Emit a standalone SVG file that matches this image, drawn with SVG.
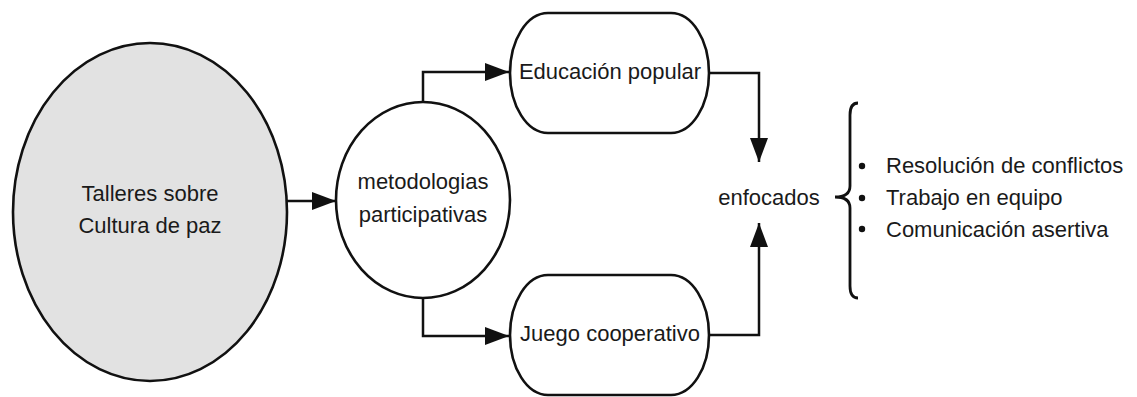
<svg xmlns="http://www.w3.org/2000/svg" width="1137" height="397" viewBox="0 0 1137 397">
<defs>
<style>
.shape{stroke:#111;stroke-width:2.6;fill:#fff}
.conn{stroke:#111;stroke-width:2.5;fill:none}
text{font-family:"Liberation Sans",Arial,sans-serif;font-size:22px;fill:#1a1a1a}
.c{text-anchor:middle}
</style>
<marker id="arr" viewBox="0 0 24 18" refX="24" refY="9" markerWidth="24" markerHeight="18" markerUnits="userSpaceOnUse" orient="auto">
<path d="M0,0 L24,9 L0,18 Z" fill="#111"/>
</marker>
</defs>
<rect width="1137" height="397" fill="#fff"/>
<g id="connectors">
<path class="conn" d="M285,201 L336,201" marker-end="url(#arr)"/>
<path class="conn" d="M423,102 L423,72 L509,72" marker-end="url(#arr)"/>
<path class="conn" d="M423,298 L423,336 L509,336" marker-end="url(#arr)"/>
<path class="conn" d="M709,73 L759,73 L759,162" marker-end="url(#arr)"/>
<path class="conn" d="M709,335 L759,335 L759,223" marker-end="url(#arr)"/>
</g>
<g id="talleres">
<ellipse cx="150" cy="212" rx="137" ry="169" class="shape" style="fill:#e2e2e2"/>
<text x="150" y="201" class="c">Talleres sobre</text>
<text x="150" y="233" class="c">Cultura de paz</text>
</g>
<g id="metodologias">
<ellipse cx="423" cy="200" rx="87" ry="98" class="shape"/>
<text x="423" y="189" class="c">metodologias</text>
<text x="423" y="222" class="c">participativas</text>
</g>
<g id="educacion">
<rect x="510" y="13" width="199" height="120" rx="38" ry="60" class="shape"/>
<text x="610" y="79" class="c">Educación popular</text>
</g>
<g id="juego">
<rect x="510" y="275" width="199" height="120" rx="38" ry="60" class="shape"/>
<text x="610" y="341" class="c">Juego cooperativo</text>
</g>
<g id="enfocados">
<text x="769" y="205" class="c">enfocados</text>
</g>
<g id="lista">
<path class="conn" style="stroke-width:2.8" d="M858,103 Q850,103 850,115 L850,186 Q850,197 835,197 Q850,197 850,208 L850,286 Q850,298 858,298"/>
<circle cx="862" cy="166" r="3.2" fill="#111"/>
<circle cx="862" cy="198" r="3.2" fill="#111"/>
<circle cx="862" cy="229" r="3.2" fill="#111"/>
<text x="886" y="173">Resolución de conflictos</text>
<text x="886" y="205">Trabajo en equipo</text>
<text x="886" y="237">Comunicación asertiva</text>
</g>
</svg>
